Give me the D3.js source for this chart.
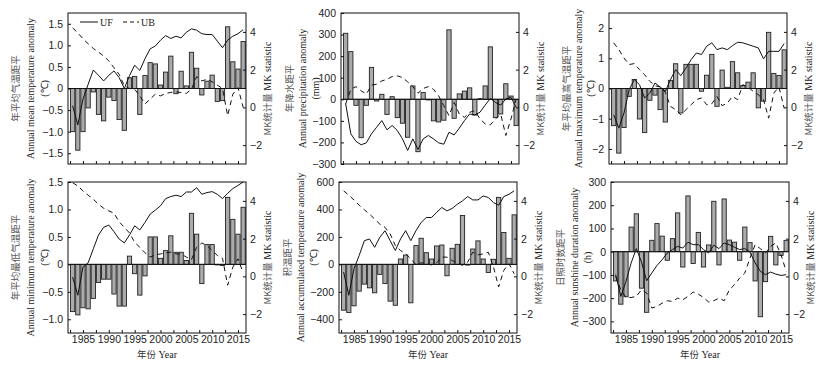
<!DOCTYPE html>
<html lang="zh">
<head>
<meta charset="UTF-8">
<title>Anomaly and MK test</title>
<script src="https://d3js.org/d3.v7.min.js"></script>
<style>
  body { margin: 0; background: #fff; }
  svg { font-family: "Liberation Serif", "Times New Roman", serif; }
  .tick text { font-size: 10.5px; fill: #222; }
  .tick line { stroke: #111; }
  .cn { font-family: "Noto Sans CJK SC", sans-serif; font-size: 9.5px; fill: #555; }
  .en { font-size: 10px; fill: #222; }
</style>
</head>
<body>
<svg id="chart" width="824" height="366"></svg>
<script>
// years 1983-2016
const years = [1983,1984,1985,1986,1987,1988,1989,1990,1991,1992,1993,1994,1995,1996,1997,1998,1999,
  2000,2001,2002,2003,2004,2005,2006,2007,2008,2009,2010,2011,2012,2013,2014,2015,2016];

// annual mean temperature anomaly (degC) + MK UF/UB
const meanT = [-1.0,-1.43,-1.0,-0.45,-0.08,-0.6,-0.75,-0.2,-0.28,-0.72,-0.97,0.25,0.28,-0.6,0.3,0.6,0.57,
  0.08,0.38,0.75,-0.12,0.4,0.06,0.84,0.47,-0.15,0.17,0.31,-0.3,-0.28,1.43,0.62,0.45,1.09];
const meanUF = [0.09,-0.93,0.44,1.22,1.98,1.7,1.4,1.7,1.93,1.58,1.0,1.68,2.23,1.96,2.58,3.1,3.25,
  3.56,3.8,3.65,3.77,3.68,3.98,4.16,4.09,3.9,3.86,3.86,3.51,3.16,3.56,3.77,3.9,4.12];
const meanUB = [4.21,3.95,3.63,3.37,3.12,2.93,2.72,2.46,2.1,1.75,1.14,1.0,0.96,0.61,0.18,0.44,0.7,
  0.61,0.74,0.79,0.82,0.79,0.74,0.96,1.63,1.4,1.49,1.35,1.18,1.0,-0.44,0.7,1.05,0.0];

// annual precipitation anomaly (mm)
const precip = [306,221,-28,-178,-28,148,-8,23,-70,12,-85,-111,-176,62,-243,31,-3,
  -100,-105,-97,322,-88,25,38,53,-73,3,62,243,-85,-68,72,15,-122];
const precUF = [0.2,-1.4,-1.8,-1.98,-1.88,-1.4,-1.05,-0.7,-1.19,-0.96,-1.23,-1.67,-2.28,-1.67,-2.23,-1.67,-1.49,
  -1.67,-1.88,-1.95,-1.32,-1.46,-1.1,-0.7,-0.35,-0.4,-0.26,0.12,0.47,0.26,0.12,0.44,0.53,0.0];
const precUB = [0.18,0.96,1.1,0.88,0.7,1.18,1.23,1.4,1.49,1.63,1.67,1.58,1.35,1.1,0.75,1.0,1.1,
  0.96,0.61,0.09,-0.44,0.26,-0.35,-0.53,-0.26,-0.18,-0.61,-0.88,-0.93,-0.61,-0.35,-1.49,-0.61,0.44];

// annual maximum temperature anomaly (degC)
const maxT = [-1.23,-2.14,-1.29,-0.26,0.3,-1.01,-1.46,-0.39,-0.22,-0.7,-1.11,0.27,0.82,-0.81,0.8,0.8,0.8,
  -0.09,0.44,1.13,-0.59,0.61,0.04,0.89,0.52,0.1,0.21,0.52,-0.64,-0.42,1.86,0.5,0.43,1.28];
const maxUF = [-0.39,-1.1,-0.3,0.94,1.47,1.2,0.5,0.76,1.29,1.08,0.85,1.47,2.0,1.68,2.09,2.53,2.88,
  2.8,3.24,3.42,3.06,3.15,3.06,3.27,3.45,3.42,3.33,3.24,3.15,2.57,2.97,2.97,2.97,3.38];
const maxUB = [3.42,3.06,2.62,2.27,2.32,2.0,1.73,1.38,1.15,1.08,0.8,0.05,-0.12,-0.39,-0.12,0.14,0.41,
  0.5,0.14,0.19,0.58,0.09,0.23,0.58,0.41,1.2,1.08,0.85,0.67,0.41,-0.57,0.76,1.08,-0.04];

// annual minimum temperature anomaly (degC)
const minT = [-0.86,-0.92,-0.79,-0.81,-0.62,-0.33,-0.27,-0.27,-0.54,-0.76,-0.76,0.15,-0.17,-0.56,-0.21,0.5,0.5,
  0.11,0.25,0.52,0.22,0.22,0.07,0.93,0.55,-0.35,0.36,0.36,-0.01,-0.02,1.22,0.82,0.55,1.04];
const minUF = [-0.04,-1.0,0.49,0.72,1.46,2.19,2.6,2.72,2.37,1.98,1.77,2.19,2.68,2.46,2.86,3.3,3.51,
  3.74,4.12,4.23,4.3,4.23,4.47,4.47,4.7,4.35,4.44,4.49,4.35,4.12,4.4,4.65,4.82,5.0];
const minUB = [4.96,4.79,4.53,4.3,4.09,3.82,3.61,3.47,3.35,2.89,2.6,2.3,1.81,1.54,1.25,1.02,1.14,
  1.19,1.25,1.28,1.19,1.19,1.02,0.89,1.54,1.77,1.63,1.37,1.11,0.96,-0.47,0.49,0.93,0.19];

// annual accumulated temperature anomaly (degC)
const accT = [-334,-351,-302,-195,-144,-171,-207,-73,-139,-268,-298,39,68,-280,137,190,85,
  39,134,141,-83,117,146,356,-5,112,171,39,-59,37,488,232,44,361];
const accUF = [0.23,-1.0,0.4,1.1,1.89,1.98,1.54,2.07,2.42,1.89,1.37,1.98,2.42,1.89,2.42,2.86,3.12,
  3.12,3.39,3.65,3.47,3.6,3.82,4.0,4.23,4.05,4.05,4.26,4.18,3.91,3.77,4.23,4.35,4.53];
const accUB = [4.53,4.3,4.05,3.77,3.53,3.3,3.04,2.77,2.6,2.25,1.63,1.37,1.19,0.93,0.61,0.72,0.67,
  0.61,0.72,1.02,1.02,0.84,0.72,0.58,0.75,1.28,1.14,1.19,1.28,0.49,-0.56,0.32,0.67,0.14];

// annual sunshine duration anomaly (h)
const sun = [-126,-226,-194,106,163,-157,-261,49,121,67,-37,56,167,-66,240,-51,83,
  -66,29,217,-57,227,50,41,-37,106,39,-126,-280,-129,66,-57,-16,49];
const sunUF = [0.09,-1.06,-0.27,0.71,1.47,0.76,-0.23,0.18,0.58,0.88,1.24,1.42,1.59,1.5,1.81,1.68,1.68,
  1.42,1.24,1.65,1.47,1.77,1.68,1.54,1.42,1.47,1.29,0.71,0.27,0.09,0.23,0.12,0.05,0.09];
const sunUB = [0.0,-0.71,-1.12,-1.12,-1.06,-0.71,-0.88,-1.68,-1.59,-1.42,-1.29,-1.33,-1.15,-1.24,-1.06,-0.83,-0.94,
  -1.12,-1.36,-1.29,-1.15,-1.29,-0.71,-0.44,-0.09,0.18,0.97,1.68,1.47,1.24,1.59,1.77,1.15,0.27];

// tick values
const yearTicks = [1982.5,1985,1987.5,1990,1992.5,1995,1997.5,2000,2002.5,2005,2007.5,2010,2012.5,2015];
const mkTicks = [-2, 0, 2, 4];
const meanTicks = [-1.5,-1.0,-0.5,0,0.5,1.0,1.5];
const precTicks = [-300,-200,-100,0,100,200,300,400];
const maxTicks = [-2,-1,0,1,2];
const minTicks = [-1.0,-0.5,0,0.5,1.0,1.5];
const accTicks = [-400,-200,0,200,400,600];
const sunTicks = [-300,-200,-100,0,100,200,300];

const W = 178, H = 151;
const minus = s => String(s).replace("-", "\u2212");
const f1 = d => d === 0 ? "0" : minus(d3.format(".1f")(d));
const f0 = d => minus(d);

const panels = [
  {x0: 68,  y0: 13,  vals: meanT,  uf: meanUF, ub: meanUB, dom: [-1.75, 1.75], ticks: meanTicks, fmt: f1,
   cn: "年平均气温距平", en: "Annual mean temperature anomaly", unit: "(℃)", lab: [-53, -38, -24], legend: true},
  {x0: 341, y0: 13,  vals: precip, uf: precUF, ub: precUB, dom: [-300, 400], ticks: precTicks, fmt: f0,
   cn: "年降水距平", en: "Annual precipitation anomaly", unit: "(mm)", lab: [-52, -39, -26]},
  {x0: 609, y0: 13,  vals: maxT,   uf: maxUF,  ub: maxUB,  dom: [-2.5, 2.5], ticks: maxTicks, fmt: f0,
   cn: "年平均最高气温距平", en: "Annual maximum temperature anomaly", unit: "(℃)", lab: [-43, -31, -19]},
  {x0: 68,  y0: 182, vals: minT,   uf: minUF,  ub: minUB,  dom: [-1.25, 1.5], ticks: minTicks, fmt: f1,
   cn: "年平均最低气温距平", en: "Annual minimum temperature anomaly", unit: "(℃)", lab: [-53, -38, -24], years: true},
  {x0: 339, y0: 182, vals: accT,   uf: accUF,  ub: accUB,  dom: [-500, 600], ticks: accTicks, fmt: f0,
   cn: "积温距平", en: "Annual  accumulated temperature anomaly", unit: "(℃)", lab: [-52, -39, -26], years: true},
  {x0: 611, y0: 182, vals: sun,    uf: sunUF,  ub: sunUB,  dom: [-350, 300], ticks: sunTicks, fmt: f0,
   cn: "日照时数距平", en: "Annual sunshine duration anomaly", unit: "(h)", lab: [-51, -37, -24], years: true}
];

const svg = d3.select("#chart");
svg.append("rect").attr("width", 824).attr("height", 366).attr("fill", "#fff");

const x = d3.scaleLinear().domain([1982.1, 2016.55]).range([0, W]);
const bw = (x(1984) - x(1983)) * 0.82;
const yMK = d3.scaleLinear().domain([-3, 5]).range([H, 0]);

panels.forEach(p => {
  const g = svg.append("g").attr("transform", `translate(${p.x0},${p.y0})`);
  const y = d3.scaleLinear().domain(p.dom).range([H, 0]);

  // bars
  g.selectAll("rect.bar").data(p.vals).enter().append("rect")
    .attr("class", "bar")
    .attr("x", (d, i) => x(years[i]) - bw / 2)
    .attr("y", d => y(Math.max(0, d)))
    .attr("width", bw)
    .attr("height", d => Math.abs(y(d) - y(0)))
    .attr("fill", "#ababab")
    .attr("stroke", "#222")
    .attr("stroke-width", 0.9);

  // zero line
  g.append("line").attr("x1", 0).attr("x2", W).attr("y1", y(0)).attr("y2", y(0))
    .attr("stroke", "#111").attr("stroke-width", 1);

  // UF / UB lines
  const line = d3.line().x((d, i) => x(years[i])).y(d => yMK(d));
  g.append("path").datum(p.uf).attr("d", line)
    .attr("fill", "none").attr("stroke", "#111").attr("stroke-width", 1);
  g.append("path").datum(p.ub).attr("d", line)
    .attr("fill", "none").attr("stroke", "#111").attr("stroke-width", 1)
    .attr("stroke-dasharray", "5,4");

  // axes, ticks inward
  g.append("g").call(d3.axisLeft(y).tickValues(p.ticks).tickFormat(p.fmt)
      .tickSizeInner(-3).tickSizeOuter(0).tickPadding(5))
    .call(a => a.select(".domain").remove());
  g.append("g").attr("transform", `translate(${W},0)`)
    .call(d3.axisRight(yMK).tickValues(mkTicks).tickFormat(f0)
      .tickSizeInner(-3).tickSizeOuter(0).tickPadding(4))
    .call(a => a.select(".domain").remove());
  g.append("g").attr("transform", `translate(0,${H})`)
    .call(d3.axisBottom(x).tickValues(yearTicks)
      .tickFormat(d => (p.years && d % 5 === 0) ? d : "")
      .tickSizeInner(-3).tickSizeOuter(0).tickPadding(3))
    .call(a => a.select(".domain").remove());

  g.append("rect").attr("width", W).attr("height", H)
    .attr("fill", "none").attr("stroke", "#111").attr("stroke-width", 1);

  // left labels
  const cy = H / 2;
  g.append("text").attr("class", "cn")
    .attr("transform", `translate(${p.lab[0]},${cy}) rotate(-90)`)
    .attr("text-anchor", "middle").attr("dominant-baseline", "central").text(p.cn);
  g.append("text").attr("class", "en")
    .attr("transform", `translate(${p.lab[1]},${cy}) rotate(-90)`)
    .attr("text-anchor", "middle").attr("dominant-baseline", "central").text(p.en);
  g.append("text").attr("class", "en")
    .attr("transform", `translate(${p.lab[2]},${cy}) rotate(-90)`)
    .attr("text-anchor", "middle").attr("dominant-baseline", "central").text(p.unit);

  // right label
  const rl = g.append("text")
    .attr("transform", `translate(${W + 21},${cy}) rotate(-90)`)
    .attr("text-anchor", "middle").attr("dominant-baseline", "central");
  rl.append("tspan").attr("class", "cn").text("MK统计量");
  rl.append("tspan").attr("class", "en").text(" MK statistic");

  if (p.years) {
    g.append("text").attr("x", W / 2).attr("y", H + 21)
      .attr("text-anchor", "middle").attr("dominant-baseline", "central")
      .call(t => {
        t.append("tspan").attr("class", "cn").style("fill", "#333").text("年份");
        t.append("tspan").attr("class", "en").text(" Year");
      });
  }

  if (p.legend) {
    const lg = g.append("g").attr("transform", "translate(12,9)");
    lg.append("line").attr("x1", 0).attr("x2", 18).attr("stroke", "#111");
    lg.append("text").attr("x", 20).attr("class", "en").attr("dominant-baseline", "central").text("UF");
    lg.append("line").attr("x1", 43).attr("x2", 59).attr("stroke", "#111").attr("stroke-dasharray", "4,3");
    lg.append("text").attr("x", 61).attr("class", "en").attr("dominant-baseline", "central").text("UB");
  }
});
</script>
</body>
</html>
